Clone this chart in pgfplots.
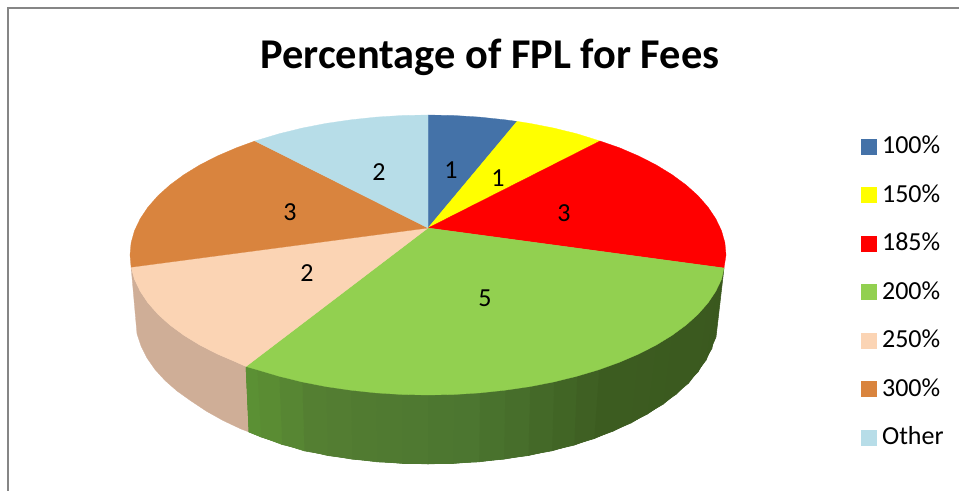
\documentclass[border=0pt]{standalone}
\usepackage{fontspec}
\setmainfont{Carlito}
\usepackage{pgfplots}
\pgfplotsset{compat=1.18}
\definecolor{cBlue}{HTML}{4472A8}
\definecolor{cYellow}{HTML}{FFFF00}
\definecolor{cRed}{HTML}{FF0000}
\definecolor{cGreen}{HTML}{92D050}
\definecolor{cPeach}{HTML}{FBD4B4}
\definecolor{cOrange}{HTML}{D9843E}
\definecolor{cOther}{HTML}{B7DDE8}
\definecolor{cPeachSide}{HTML}{CFAE97}
\definecolor{cFrame}{HTML}{868686}
\begin{document}
\begin{tikzpicture}
\useasboundingbox (0,0) rectangle (719.25pt,368.25pt);
\begin{axis}[
  scale only axis, width=719.25pt, height=368.25pt,
  xmin=0, xmax=959, ymin=0, ymax=491, y dir=reverse,
  hide axis, clip=false,
  legend image code/.code={\path[draw=none,fill=none] (0pt,-4.1pt) rectangle (13.5pt,7.1pt);\path[#1] (0pt,-4.1pt) rectangle (11.25pt,7.1pt);},
  legend cell align=left,
  legend style={at={(0.8978,0.723)},anchor=north west,draw=none,fill=none,inner sep=0pt,
    font=\fontsize{19.5}{22}\selectfont,row sep=18.4pt,
    nodes={text height=13pt,text depth=5pt,inner sep=0pt,inner xsep=2pt}},
  colormap={gs}{rgb255(0cm)=(58,88,30); rgb255(5cm)=(60,92,32); rgb255(8cm)=(76,118,48); rgb255(11cm)=(84,126,50); rgb255(12.3cm)=(92,146,52)},
  point meta min=5, point meta max=127.6,
]
% frame
\addplot[cFrame,line width=1.5pt,forget plot] coordinates {(8,491)(8,8)(959,8)};
% side of the 250% slice
\addplot[fill=cPeachSide,draw=cPeachSide,line width=.2pt,forget plot] coordinates {
(246,366.5)(236.4,362.2)(217.3,354)(199.7,345)(183.9,335.3)(169.9,325)(157.9,314.2)(148,302.9)(140.2,291.2)(134.5,279.3)(131.1,267.2)
(137,334)(141,346)(147,358)(155,369.5)(165,380.5)(177,391)(191,401)(206,411)(223,420.5)(241,429)(249,432)
} -- cycle;
% side of the 200% slice
\addplot[patch,patch type=rectangle,shader=flat,forget plot,
  table/row sep=\\,
  patch table={0 1 5 4\\ 2 3 7 6\\ 4 5 9 8\\ 6 7 11 10\\ 8 9 13 12\\ 10 11 15 14\\ 12 13 17 16\\ 14 15 19 18\\ 16 17 21 20\\ 18 19 23 22\\ 20 21 25 24\\ 22 23 27 26\\ 24 25 29 28\\ 26 27 31 30\\ 28 29 33 32\\ 30 31 35 34\\ 32 33 37 36\\ 34 35 39 38\\ 36 37 41 40\\ 38 39 43 42\\ 40 41 45 44\\ 42 43 47 46\\ 44 45 49 48\\ 46 47 51 50\\ 48 49 51 50\\}]
 table[row sep=\\,point meta=\thisrow{c}] {
x y c\\
724 268 5.4\\ 716 337 5.4\\
721.5 279.3 10\\ 712 348.3 10\\
715.8 291.2 15\\ 706 360.2 15\\
708 302.9 20\\ 698 371.9 20\\
698.1 314.2 25\\ 688.5 383.2 25\\
686.1 325 30\\ 676.5 394 30\\
672.1 335.3 35\\ 663 404.3 35\\
656.3 345 40\\ 647.5 414 40\\
638.7 354 45\\ 631 423 45\\
619.6 362.2 50\\ 613 431.2 50\\
598.9 369.7 55\\ 594 438.7 55\\
577 376.2 60\\ 574 445.2 60\\
553.9 381.9 65\\ 551.8 450.9 65\\
529.9 386.6 70\\ 528.2 455.6 70\\
505.1 390.2 75\\ 503.8 459.2 75\\
479.7 392.9 80\\ 478.9 461.9 80\\
454 394.5 85\\ 453.5 463.5 85\\
428 395 90\\ 428 464 90\\
402 394.5 95\\ 402.5 463.5 95\\
376.3 392.9 100\\ 377.1 461.9 100\\
350.9 390.2 105\\ 352.2 459.2 105\\
326.1 386.6 110\\ 327.8 455.6 110\\
302.1 381.9 115\\ 304.2 450.9 115\\
279 376.2 120\\ 282 444.5 120\\
257.1 369.7 125\\ 261 437 125\\
246 366.5 127.6\\ 249 432 127.6\\
};
% top faces
\addplot[fill=cBlue,draw=cBlue,line width=.2pt] coordinates {(428,228)(428,115)(454,115.5)(479.7,117.1)(505.1,119.8)(517,121.4)} -- cycle;
\addlegendentry{100\%}
\addplot[fill=cYellow,draw=cYellow,line width=.2pt] coordinates {(428,228)(517,121.4)(529.9,123.4)(553.9,128.1)(577,133.8)(600,141)} -- cycle;
\addlegendentry{150\%}
\addplot[fill=cRed,draw=cRed,line width=.2pt] coordinates {(428,228)(600,141)(619.6,147.8)(638.7,156)(656.3,165)(672.1,174.7)(686.1,185)(698.1,195.8)(708,207.1)(715.8,218.8)(721.5,230.7)(724.9,242.8)(726,255)(724,268)} -- cycle;
\addlegendentry{185\%}
\addplot[fill=cGreen,draw=cGreen,line width=.2pt] coordinates {(428,228)(724,268)(721.5,279.3)(715.8,291.2)(708,302.9)(698.1,314.2)(686.1,325)(672.1,335.3)(656.3,345)(638.7,354)(619.6,362.2)(598.9,369.7)(577,376.2)(553.9,381.9)(529.9,386.6)(505.1,390.2)(479.7,392.9)(454,394.5)(428,395)(402,394.5)(376.3,392.9)(350.9,390.2)(326.1,386.6)(302.1,381.9)(279,376.2)(257.1,369.7)(246,366.5)} -- cycle;
\addlegendentry{200\%}
\addplot[fill=cPeach,draw=cPeach,line width=.2pt] coordinates {(428,228)(246,366.5)(236.4,362.2)(217.3,354)(199.7,345)(183.9,335.3)(169.9,325)(157.9,314.2)(148,302.9)(140.2,291.2)(134.5,279.3)(131.1,267.2)} -- cycle;
\addlegendentry{250\%}
\addplot[fill=cOrange,draw=cOrange,line width=.2pt] coordinates {(428,228)(131.1,267.2)(130,255)(131.1,242.8)(134.5,230.7)(140.2,218.8)(148,207.1)(157.9,195.8)(169.9,185)(183.9,174.7)(199.7,165)(217.3,156)(236.4,147.8)(255,141)} -- cycle;
\addlegendentry{300\%}
\addplot[fill=cOther,draw=cOther,line width=.2pt] coordinates {(428,228)(255,141)(279,133.8)(302.1,128.1)(326.1,123.4)(350.9,119.8)(376.3,117.1)(402,115.5)(428,115)} -- cycle;
\addlegendentry{Other}
% value labels
\begin{scope}[every node/.style={font=\fontsize{19.5}{22}\selectfont,inner sep=0pt}]
\node at (axis cs:451,170) {1};
\node at (axis cs:498,178) {1};
\node at (axis cs:564,213) {3};
\node at (axis cs:485,298) {5};
\node at (axis cs:307,273) {2};
\node at (axis cs:290,212) {3};
\node at (axis cs:379,172) {2};
\end{scope}
\node[font=\fontsize{31.8}{36}\selectfont\bfseries,inner sep=0pt] at (axis cs:490,57) {Percentage of FPL for Fees};
\end{axis}
\end{tikzpicture}
\end{document}
